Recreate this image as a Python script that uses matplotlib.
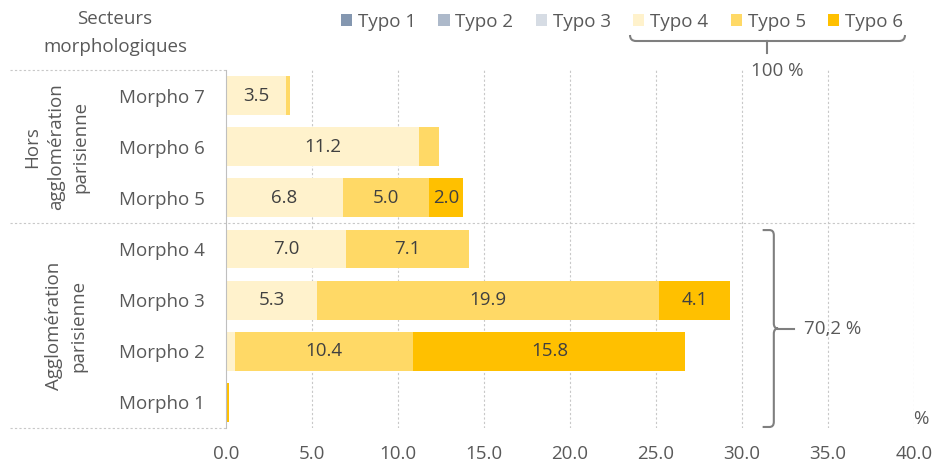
import matplotlib
matplotlib.use("Agg")
import matplotlib.pyplot as plt
import numpy as np
from matplotlib.path import Path
from matplotlib.patches import PathPatch
from matplotlib.transforms import blended_transform_factory

plt.rcParams['font.family'] = ['Open Sans', 'DejaVu Sans']

# data (values in %)
categories = ['Morpho 1', 'Morpho 2', 'Morpho 3', 'Morpho 4', 'Morpho 5', 'Morpho 6', 'Morpho 7']
series = ['Typo 1', 'Typo 2', 'Typo 3', 'Typo 4', 'Typo 5', 'Typo 6']
typo1 = [0.0, 0.0, 0.0, 0.0, 0.0, 0.0, 0.0]
typo2 = [0.0, 0.0, 0.0, 0.0, 0.0, 0.0, 0.0]
typo3 = [0.0, 0.0, 0.0, 0.0, 0.0, 0.0, 0.0]
typo4 = [0.0, 0.5, 5.3, 7.0, 6.8, 11.2, 3.5]
typo5 = [0.0, 10.4, 19.9, 7.1, 5.0, 1.2, 0.2]
typo6 = [0.2, 15.8, 4.1, 0.0, 2.0, 0.0, 0.0]
colors = ['#8497B0', '#ADB9CA', '#D6DCE4', '#FFF2CC', '#FFD966', '#FFC000']
groups = ['Agglomération\nparisienne', 'Hors\nagglomération\nparisienne']
group_span = [(-0.5, 3.5), (3.5, 6.5)]
total_aggl = '70,2 %'
total_all = '100 %'

W, H = 938, 470
txt = '#595959'
fs = 13.5

fig = plt.figure(figsize=(W / 100, H / 100), dpi=100)
ax = fig.add_axes([226 / W, 1 - 428 / H, (914 - 226) / W, (428 - 70) / H])

y = np.arange(len(categories))
left = np.zeros(len(categories))
for name, vals, col in zip(series, [typo1, typo2, typo3, typo4, typo5, typo6], colors):
    vals = np.array(vals)
    ax.barh(y, vals, left=left, height=0.76, color=col, label=name, edgecolor='none', zorder=2)
    for yi, v, l in zip(y, vals, left):
        if v >= 2.0:
            ax.text(l + v / 2, yi, f'{v:.1f}', ha='center', va='center',
                    fontsize=fs, color='#404040', zorder=3)
    left += vals

ax.set_xlim(0, 40)
ax.set_ylim(-0.5, 6.5)
ax.set_xticks(np.arange(0, 41, 5))
ax.set_xticklabels([f'{t:.1f}' for t in np.arange(0, 41, 5)])
ax.set_yticks(y)
ax.set_yticklabels(categories)
ax.tick_params(axis='both', length=0, labelsize=fs, colors=txt)
ax.tick_params(axis='y', pad=15)
ax.tick_params(axis='x', pad=12)
for xg in np.arange(5, 41, 5):
    ax.axvline(xg, color='#C8C8C8', lw=0.8, ls=(0, (2, 2)), zorder=0)
for s in ['top', 'right', 'bottom']:
    ax.spines[s].set_visible(False)
ax.spines['left'].set_color('#BFBFBF')
ax.spines['left'].set_linewidth(0.8)

# category separators on the left
tr = blended_transform_factory(fig.transFigure, ax.transData)
for yl, x_end in [(6.5, 226), (-0.5, 226), (3.5, 914)]:
    ax.plot([10 / W, x_end / W], [yl, yl], transform=tr, clip_on=False,
            color='#C8C8C8', lw=0.8, ls=(0, (2, 2)), zorder=1)

# group labels
ax.text(56 / W, sum(group_span[1]) / 2, groups[1], transform=tr, rotation=90,
        ha='center', va='center', multialignment='center', linespacing=1.45,
        fontsize=fs, color=txt)
ax.text(66 / W, sum(group_span[0]) / 2, groups[0], transform=tr, rotation=90,
        ha='center', va='center', multialignment='center', linespacing=1.45,
        fontsize=fs, color=txt)
fig.text(115 / W, 1 - 33 / H, 'Secteurs\nmorphologiques', ha='center', va='center',
         linespacing=1.65, fontsize=fs, color=txt)

ax.text(40.4, -0.32, '%', ha='center', va='center', fontsize=fs, color=txt)

# legend
h, l = ax.get_legend_handles_labels()
fig.legend(h, l, ncol=6, loc='center', bbox_to_anchor=(622 / W, 1 - 22 / H),
           frameon=False, handlelength=0.6, handleheight=0.6, handletextpad=0.3,
           columnspacing=1.2, fontsize=fs, labelcolor=txt)

# brace under Typo 4-6
def px(xp, yp):
    return (xp / W, 1 - yp / H)

bc = '#7F7F7F'
verts = [px(630, 35), px(630, 41), px(636, 41), px(899, 41), px(905, 41), px(905, 35)]
codes = [Path.MOVETO, Path.CURVE3, Path.CURVE3, Path.LINETO, Path.CURVE3, Path.CURVE3]
fig.add_artist(PathPatch(Path(verts, codes), transform=fig.transFigure, fc='none', ec=bc, lw=1.5))
fig.add_artist(plt.Line2D([767 / W, 767 / W], [1 - 41 / H, 1 - 53 / H], color=bc, lw=1.5))
fig.text(777 / W, 1 - 71 / H, total_all, ha='center', va='center', fontsize=fs, color=txt)

# brace for the Agglomeration group
x0, x1, rx, xt = 31.2, 31.85, 0.25, 33.0
ybot, ytop = group_span[0][0] + 0.02, group_span[0][1] - 0.13
ymid = (ybot + ytop) / 2
ry = 0.1
verts = [(x0, ytop), (x1 - rx, ytop), (x1, ytop), (x1, ytop - ry), (x1, ymid + ry),
         (x1, ymid), (x1 + rx, ymid),
         (x1 + rx, ymid), (x1, ymid), (x1, ymid - ry), (x1, ybot + ry),
         (x1, ybot), (x1 - rx, ybot), (x0, ybot)]
codes = [Path.MOVETO, Path.LINETO, Path.CURVE3, Path.CURVE3, Path.LINETO,
         Path.CURVE3, Path.CURVE3,
         Path.MOVETO, Path.CURVE3, Path.CURVE3, Path.LINETO,
         Path.CURVE3, Path.CURVE3, Path.LINETO]
ax.add_patch(PathPatch(Path(verts, codes), fc='none', ec=bc, lw=1.5, clip_on=False, zorder=4))
ax.plot([x1 + rx, xt], [ymid, ymid], color=bc, lw=1.5, clip_on=False, zorder=4)
ax.text(33.6, ymid, total_aggl, ha='left', va='center', fontsize=fs, color=txt)

fig.savefig('out.png', dpi=100)
